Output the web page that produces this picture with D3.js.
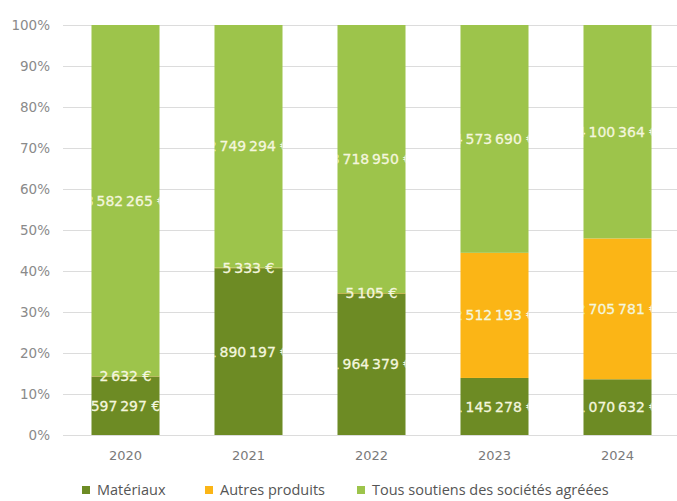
<!DOCTYPE html>
<html>
<head>
<meta charset="utf-8">
<script src="https://cdn.jsdelivr.net/npm/d3@7"></script>
<style>
  html, body { margin: 0; padding: 0; background: #ffffff; }
  svg { display: block; }
</style>
</head>
<body>
<div id="chart"></div>
<script>
const years = ["2020", "2021", "2022", "2023", "2024"];
const seriesNames = ["Matériaux", "Autres produits", "Tous soutiens des sociétés agréées"];
const materiaux = [597297, 1890197, 1964379, 1145278, 1070632];
const autres = [2632, 5333, 5105, 2512193, 2705781];
const tous = [3582265, 2749294, 3718950, 4573690, 4100364];
const yTicks = [0, 0.1, 0.2, 0.3, 0.4, 0.5, 0.6, 0.7, 0.8, 0.9, 1.0];
const colors = ["#6d8b24", "#fbb516", "#9dc44b"];

const W = 677, H = 501;
const margin = { top: 25, left: 64, right: -2, bottom: 66 };

const svg = d3.select("#chart").append("svg").attr("width", W).attr("height", H);

const keys = ["materiaux", "autres", "tous"];
const rows = years.map((y, i) => {
  const tot = materiaux[i] + autres[i] + tous[i];
  return { year: y, materiaux: materiaux[i] / tot, autres: autres[i] / tot, tous: tous[i] / tot,
           raw: { materiaux: materiaux[i], autres: autres[i], tous: tous[i] } };
});
const stacked = d3.stack().keys(keys)(rows);

const x = d3.scaleBand().domain(years).range([margin.left, W - margin.right])
  .paddingInner(0.447).paddingOuter(0.2235);
const y = d3.scaleLinear().domain([0, 1]).range([H - margin.bottom, margin.top]);

const fr = d3.formatLocale({ decimal: ",", thousands: "\u2009", grouping: [3], currency: ["", " €"] });
const fmt = fr.format(",.0f");

// gridlines
svg.append("g").selectAll("line").data(yTicks).join("line")
  .attr("x1", 63).attr("x2", W)
  .attr("y1", d => Math.round(y(d)) + 0.5).attr("y2", d => Math.round(y(d)) + 0.5)
  .attr("stroke", "#dcdcdc").attr("stroke-width", 1.2);

// y tick labels
svg.append("g").selectAll("text").data(yTicks).join("text")
  .attr("x", 50).attr("y", d => y(d))
  .attr("dy", "0.35em").attr("text-anchor", "end")
  .attr("font-family", "'DejaVu Sans', sans-serif").attr("font-size", 13.5)
  .attr("fill", "#8a8a8a")
  .text(d => Math.round(d * 100) + "%");

// clip paths per bar
const defs = svg.append("defs");
years.forEach((yr, i) => {
  defs.append("clipPath").attr("id", "clip" + i)
    .append("rect").attr("x", x(yr)).attr("y", margin.top)
    .attr("width", x.bandwidth()).attr("height", y(0) - margin.top);
});

// bars
const layer = svg.append("g").selectAll("g").data(stacked).join("g")
  .attr("fill", (d, i) => colors[i]);
layer.selectAll("rect").data(d => d).join("rect")
  .attr("x", d => x(d.data.year))
  .attr("y", d => y(d[1]))
  .attr("width", x.bandwidth())
  .attr("height", d => Math.max(0, y(d[0]) - y(d[1])));

// labels (clipped to bar)
stacked.forEach((s) => {
  s.forEach((d, i) => {
    svg.append("text")
      .attr("clip-path", "url(#clip" + i + ")")
      .attr("x", x(d.data.year) + x.bandwidth() / 2)
      .attr("y", y((d[0] + d[1]) / 2))
      .attr("dy", "0.36em")
      .attr("text-anchor", "middle")
      .attr("font-family", "'DejaVu Sans', sans-serif")
      .attr("font-size", 14)
      .attr("fill", "#f4f6de")
      .attr("stroke", "#f4f6de").attr("stroke-width", 0.3)
      .text(fmt(d.data.raw[s.key]) + " €");
  });
});

// x labels
svg.append("g").selectAll("text").data(years).join("text")
  .attr("x", d => x(d) + x.bandwidth() / 2)
  .attr("y", 455).attr("dy", "0.35em")
  .attr("text-anchor", "middle")
  .attr("font-family", "'DejaVu Sans', sans-serif").attr("font-size", 13)
  .attr("fill", "#7a7a7a")
  .text(d => d);

// legend
const legendX = [97, 220, 372];
const lg = svg.append("g").selectAll("g").data(seriesNames).join("g")
  .attr("transform", (d, i) => `translate(${legendX[i]},490)`);
lg.append("rect").attr("x", -15).attr("y", -4).attr("width", 8).attr("height", 8)
  .attr("fill", (d, i) => colors[i]);
lg.append("text").attr("x", 0).attr("y", 0).attr("dy", "0.35em")
  .attr("font-family", "'Open Sans', sans-serif").attr("font-size", 14.5)
  .attr("fill", "#555555")
  .text(d => d);
</script>
</body>
</html>
